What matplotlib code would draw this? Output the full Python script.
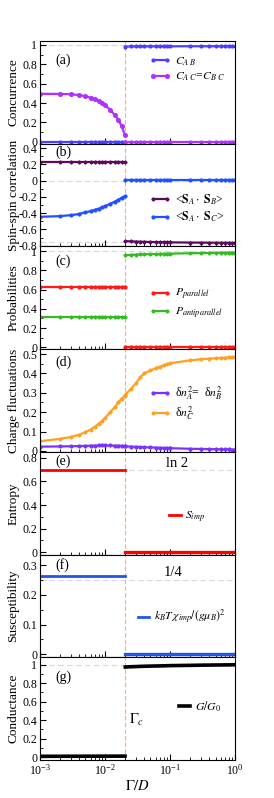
import numpy as np
import matplotlib
matplotlib.use("Agg")
import matplotlib.pyplot as plt
from matplotlib.ticker import MultipleLocator, FuncFormatter, LogLocator, NullFormatter

plt.rcParams['font.family'] = ['Liberation Serif', 'DejaVu Serif']
plt.rcParams['mathtext.fontset'] = 'stix'

# Gamma grids (left / right of the transition)
g_left = [0.001, 0.002, 0.003, 0.004, 0.005, 0.006, 0.007, 0.008, 0.009, 0.010,
          0.012, 0.014, 0.016, 0.018, 0.0203]
g_right = [0.0205, 0.025, 0.03, 0.035, 0.04, 0.05, 0.06, 0.07, 0.08, 0.09,
           0.1, 0.2, 0.3, 0.4, 0.5, 0.6, 0.7, 0.8, 0.9, 1.0]
g_edge_left = [0.001, 0.0203]
g_edge_right = [0.0205, 1.0]
gamma_c = 0.0204

# (a) concurrence
cab_l = [0, 0, 0, 0, 0, 0, 0, 0, 0, 0, 0, 0, 0, 0, 0]
cab_r = [0.983, 0.984, 0.984, 0.984, 0.985, 0.985, 0.985, 0.985, 0.985, 0.985,
         0.985, 0.986, 0.986, 0.986, 0.986, 0.986, 0.986, 0.986, 0.986, 0.986]
cac_l = [0.495, 0.494, 0.49, 0.482, 0.47, 0.455, 0.44, 0.42, 0.40, 0.38,
         0.33, 0.28, 0.23, 0.16, 0.07]
cac_r = [0, 0, 0, 0, 0, 0, 0, 0, 0, 0, 0, 0, 0, 0, 0, 0, 0, 0, 0, 0]

# (b) spin-spin correlations
sab_l = [0.235, 0.235, 0.235, 0.235, 0.235, 0.235, 0.235, 0.235, 0.235, 0.235,
         0.235, 0.235, 0.235, 0.235, 0.235]
sab_r = [-0.745, -0.748, -0.75, -0.752, -0.753, -0.755, -0.756, -0.757, -0.758, -0.759,
         -0.76, -0.762, -0.763, -0.764, -0.764, -0.765, -0.765, -0.765, -0.766, -0.766]
sac_l = [-0.445, -0.437, -0.425, -0.41, -0.39, -0.375, -0.36, -0.345, -0.33, -0.315,
         -0.285, -0.26, -0.235, -0.21, -0.19]
sac_r = [0.005, 0.005, 0.005, 0.005, 0.005, 0.005, 0.005, 0.005, 0.005, 0.005,
         0.005, 0.005, 0.005, 0.005, 0.005, 0.005, 0.005, 0.005, 0.005, 0.005]

# (c) probabilities
ppar_l = [0.63, 0.63, 0.63, 0.63, 0.63, 0.63, 0.63, 0.63, 0.63, 0.63,
          0.63, 0.63, 0.63, 0.63, 0.63]
ppar_r = [0.003, 0.003, 0.003, 0.003, 0.003, 0.003, 0.003, 0.003, 0.003, 0.003,
          0.003, 0.003, 0.003, 0.003, 0.003, 0.003, 0.003, 0.003, 0.003, 0.003]
panti_l = [0.315, 0.315, 0.315, 0.315, 0.315, 0.315, 0.315, 0.315, 0.315, 0.315,
           0.315, 0.315, 0.315, 0.315, 0.315]
panti_r = [0.958, 0.962, 0.965, 0.967, 0.968, 0.97, 0.971, 0.972, 0.973, 0.974,
           0.975, 0.979, 0.981, 0.982, 0.983, 0.984, 0.985, 0.985, 0.986, 0.986]

# (d) charge fluctuations
dna_l = [0.022, 0.023, 0.024, 0.025, 0.026, 0.027, 0.027, 0.028, 0.028, 0.028,
         0.028, 0.027, 0.027, 0.026, 0.025]
dna_r = [0.024, 0.022, 0.021, 0.02, 0.019, 0.018, 0.017, 0.016, 0.015, 0.015,
         0.014, 0.011, 0.01, 0.009, 0.009, 0.008, 0.008, 0.008, 0.007, 0.007]
dnc_l = [0.05, 0.062, 0.072, 0.083, 0.097, 0.11, 0.125, 0.14, 0.155, 0.17,
         0.20, 0.225, 0.25, 0.27, 0.285]
dnc_r = [0.29, 0.32, 0.35, 0.38, 0.40, 0.415, 0.427, 0.435, 0.442, 0.448,
         0.452, 0.467, 0.473, 0.476, 0.478, 0.48, 0.481, 0.482, 0.483, 0.484]

# (e) entropy, (f) susceptibility
simp_l = [0.693, 0.693]
simp_r = [0.003, 0.003]
chi_l = [0.262, 0.262]
chi_r = [0.001, 0.001]

# (g) conductance
cond_l = [0.01, 0.012]
cond_r = [0.975, 0.978, 0.98, 0.982, 0.983, 0.985, 0.986, 0.987, 0.988, 0.989,
          0.99, 0.993, 0.995, 0.996, 0.997, 0.997, 0.998, 0.998, 0.999, 0.999]

ylabels = ["Concurrence", "Spin-spin correlation", "Probabilities",
           "Charge fluctuations", "Entropy", "Susceptibility", "Conductance"]
panel_tags = ["(a)", "(b)", "(c)", "(d)", "(e)", "(f)", "(g)"]
tag_y = [0.815, 0.915, 0.86, 0.875, 0.905, 0.9, 0.81]

fig = plt.figure(figsize=(2.74, 7.98), dpi=100)
gs = fig.add_gridspec(7, 1, left=0.146, right=0.858, top=0.9486, bottom=0.0476, hspace=0)
axes = [fig.add_subplot(gs[i]) for i in range(7)]

ref = dict(color="#d8d8d8", ls=(0, (5, 3)), lw=0.8, zorder=0)
mk = dict(lw=1.6, ms=2.0)


def fmt(v, pos):
    s = f"{v:.2f}".rstrip("0").rstrip(".")
    return "0" if s in ("-0", "0") else s


leg_kw = dict(frameon=False, fontsize=8.5, handletextpad=0.4, borderpad=0,
              borderaxespad=0, labelspacing=0.25)

# (a)
ax = axes[0]
ax.axhline(1, **ref)
ax.plot(g_left, cab_l, '-o', color="#4d3dff", **mk)
l1, = ax.plot(g_right, cab_r, '-o', color="#4d3dff", **mk)
ax.plot(g_right, cac_r, '-o', color="#b030ff", **mk)
l2, = ax.plot(g_left, cac_l, '-o', color="#b030ff", lw=1.6, ms=2.6)
ax.set_ylim(-0.02, 1.04)
ax.yaxis.set_major_locator(MultipleLocator(0.2))
ax.yaxis.set_minor_locator(MultipleLocator(0.1))
ax.legend([l1, l2], [r"$C_{A\ B}$", r"$C_{A\ C}$=$C_{B\ C}$"], numpoints=2,
          handlelength=1.8, loc="center left", bbox_to_anchor=(0.56, 0.725), **leg_kw)

# (b)
ax = axes[1]
ax.axhline(0, **ref)
ax.axhline(-0.75, **ref)
l1, = ax.plot(g_left, sab_l, '-D', color="#5c0a5c", lw=1.6, ms=1.6)
ax.plot(g_right, sab_r, '-D', color="#5c0a5c", lw=1.6, ms=1.6)
l2, = ax.plot(g_left, sac_l, '-o', color="#2050ff", **mk)
ax.plot(g_right, sac_r, '-o', color="#2050ff", **mk)
ax.set_ylim(-0.81, 0.455)
ax.yaxis.set_major_locator(MultipleLocator(0.2))
ax.yaxis.set_minor_locator(MultipleLocator(0.1))
ax.legend([l1, l2], [r"<$\mathbf{S}_A\cdot\ \mathbf{S}_B$>", r"<$\mathbf{S}_A\cdot\ \mathbf{S}_C$>"],
          numpoints=2, handlelength=1.8, loc="center left", bbox_to_anchor=(0.56, 0.37), **leg_kw)

# (c)
ax = axes[2]
ax.axhline(1, **ref)
l1, = ax.plot(g_left, ppar_l, '-o', color="#ff1a1a", **mk)
ax.plot(g_right, ppar_r, '-o', color="#ff1a1a", **mk)
l2, = ax.plot(g_left, panti_l, '-D', color="#33bb22", lw=1.6, ms=1.6)
ax.plot(g_right, panti_r, '-D', color="#33bb22", lw=1.6, ms=1.6)
ax.set_ylim(-0.02, 1.05)
ax.yaxis.set_major_locator(MultipleLocator(0.2))
ax.yaxis.set_minor_locator(MultipleLocator(0.1))
ax.legend([l1, l2], [r"$P_{parallel}$", r"$P_{antiparallel}$"], numpoints=2,
          handlelength=1.8, loc="center left", bbox_to_anchor=(0.56, 0.44), **leg_kw)

# (d)
ax = axes[3]
l1, = ax.plot(g_left, dna_l, '-o', color="#7a33ff", **mk)
ax.plot(g_right, dna_r, '-o', color="#7a33ff", **mk)
l2, = ax.plot(g_left + g_right, dnc_l + dnc_r, '-D', color="#ffa020", lw=1.6, ms=1.6)
ax.set_ylim(-0.005, 0.525)
ax.yaxis.set_major_locator(MultipleLocator(0.1))
ax.yaxis.set_minor_locator(MultipleLocator(0.05))
ax.legend([l1, l2], [r"δ$n_A^2$=  δ$n_B^2$", r"δ$n_C^2$"], numpoints=2,
          handlelength=1.8, loc="center left", bbox_to_anchor=(0.56, 0.475), **leg_kw)

# (e)
ax = axes[4]
ax.axhline(np.log(2), **ref)
l1, = ax.plot(g_edge_left, simp_l, '-', color="#ff0000", lw=2)
ax.plot(g_edge_right, simp_r, '-', color="#ff0000", lw=2.4)
ax.set_ylim(-0.02, 0.85)
ax.yaxis.set_major_locator(MultipleLocator(0.2))
ax.yaxis.set_minor_locator(MultipleLocator(0.1))
ax.text(0.70, 0.885, "ln 2", transform=ax.transAxes, ha="center", va="center", fontsize=10.5)
ax.legend([l1], [r"$S_{imp}$"], handlelength=1.0, loc="center left",
          bbox_to_anchor=(0.66, 0.365), **leg_kw)

# (f)
ax = axes[5]
ax.axhline(0.25, **ref)
l1, = ax.plot(g_edge_left, chi_l, '-', color="#2255ee", lw=2)
ax.plot(g_edge_right, chi_r, '-', color="#2255ee", lw=2.4)
ax.set_ylim(-0.01, 0.335)
ax.yaxis.set_major_locator(MultipleLocator(0.1))
ax.yaxis.set_minor_locator(MultipleLocator(0.05))
ax.text(0.68, 0.825, "1/4", transform=ax.transAxes, ha="center", va="center", fontsize=10.5)
ax.legend([l1], [r"$k_BT\,\chi_{imp}/(g\mu_B)^2$"], handlelength=1.0, loc="center left",
          bbox_to_anchor=(0.50, 0.39), **leg_kw)

# (g)
ax = axes[6]
ax.axhline(1, **ref)
l1, = ax.plot(g_edge_left, cond_l, '-', color="black", lw=2.6)
ax.plot(g_right, cond_r, '-', color="black", lw=2.6)
ax.set_ylim(-0.03, 1.08)
ax.yaxis.set_major_locator(MultipleLocator(0.2))
ax.yaxis.set_minor_locator(MultipleLocator(0.1))
ax.text(0.455, 0.39, r"$\Gamma_c$", transform=ax.transAxes, ha="left", va="center", fontsize=10.5)
ax.legend([l1], [r"$G/G_0$"], handlelength=1.0, loc="center left",
          bbox_to_anchor=(0.71, 0.52), **leg_kw)

for i, ax in enumerate(axes):
    ax.set_xscale("log")
    ax.set_xlim(1e-3, 1)
    ax.axvline(gamma_c, color="#ffb060", ls=(0, (4, 2)), lw=0.8, zorder=0.5)
    ax.xaxis.set_major_locator(LogLocator(base=10, numticks=10))
    ax.xaxis.set_minor_locator(LogLocator(base=10, subs=np.arange(2, 10), numticks=10))
    ax.yaxis.set_major_formatter(FuncFormatter(fmt))
    ax.tick_params(which="both", direction="in", labelsize=8.5, pad=2)
    ax.tick_params(which="major", length=4)
    ax.tick_params(which="minor", length=2.5)
    ax.set_ylabel(ylabels[i], fontsize=9.5)
    ax.yaxis.set_label_coords(-0.105, 0.5)
    ax.text(0.08, tag_y[i], panel_tags[i], transform=ax.transAxes, ha="left", va="center", fontsize=10)
    for s in ax.spines.values():
        s.set_linewidth(0.8)
    if i < 6:
        ax.xaxis.set_major_formatter(NullFormatter())

axes[6].set_xlabel(r"$\Gamma/D$", fontsize=10.5, labelpad=1)

fig.savefig("out.png", dpi=100)
